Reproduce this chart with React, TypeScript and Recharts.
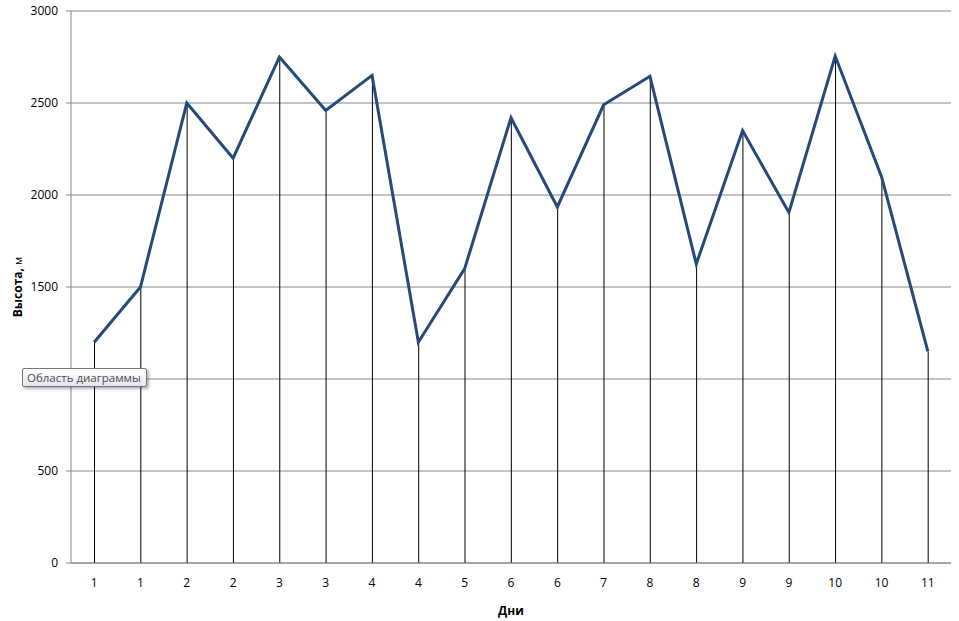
import React from 'react';
import { ComposedChart, Line, Bar, XAxis, YAxis, CartesianGrid, Label } from 'recharts';

// day labels under each measurement
const days = ['1', '1', '2', '2', '3', '3', '4', '4', '5', '6', '6', '7', '8', '8', '9', '9', '10', '10', '11'];
// height in metres
const heights = [1200, 1500, 2500, 2200, 2750, 2460, 2650, 1200, 1600, 2420, 1935, 2490, 2645, 1625, 2350, 1905, 2755, 2100, 1150];
const yTicks = [0, 500, 1000, 1500, 2000, 2500, 3000];

const data = days.map((d, i) => ({ day: d, height: heights[i] }));

const font = '"Open Sans", "Liberation Sans", sans-serif';
const axisGray = '#868686';

const YTitle = ({ viewBox }: any) => {
  const cx = 17;
  const cy = viewBox.y + viewBox.height / 2;
  return (
    <text
      x={cx}
      y={cy}
      transform={`rotate(-90, ${cx}, ${cy})`}
      textAnchor="middle"
      dominantBaseline="central"
      fontFamily={font}
      fontSize={12}
      fill="#000"
    >
      <tspan fontWeight="bold">Высота, </tspan>
      <tspan fontSize={11}>м</tspan>
    </text>
  );
};

const App = () => {
  return (
    <div style={{ position: 'absolute', left: 0, top: 0, width: 959, height: 621, background: '#fff', fontFamily: font }}>
      <ComposedChart
        width={959}
        height={621}
        data={data}
        margin={{ top: 11, right: 8, left: 0, bottom: 0 }}
        barCategoryGap={0}
      >
        <CartesianGrid vertical={false} stroke={axisGray} strokeWidth={1} />
        <XAxis
          dataKey="day"
          height={58}
          tickLine={false}
          tickMargin={9}
          axisLine={{ stroke: axisGray }}
          tick={{ fontSize: 12, fill: '#000', fontFamily: font }}
          interval={0}
        >
          <Label
            value="Дни"
            position="insideBottom"
            offset={6}
            style={{ fontSize: 12, fontWeight: 'bold', fill: '#000', fontFamily: font }}
          />
        </XAxis>
        <YAxis
          width={71}
          domain={[0, 3000]}
          ticks={yTicks}
          interval={0}
          tickSize={5}
          tickMargin={8}
          tickLine={{ stroke: axisGray }}
          axisLine={{ stroke: axisGray }}
          tick={{ fontSize: 12, fill: '#000', fontFamily: font }}
        >
          <Label content={<YTitle />} />
        </YAxis>
        <Bar dataKey="height" barSize={1} fill="#000" isAnimationActive={false} />
        <Line
          type="linear"
          dataKey="height"
          stroke="#244a7a"
          strokeWidth={3}
          dot={false}
          activeDot={false}
          isAnimationActive={false}
        />
      </ComposedChart>
      {/* hover hint captured in the screenshot */}
      <div
        style={{
          position: 'absolute',
          left: 22,
          top: 368,
          width: 125,
          height: 19,
          boxSizing: 'border-box',
          border: '1px solid #767676',
          borderRadius: 2,
          background: 'linear-gradient(#ffffff, #e4e5f0)',
          boxShadow: '2px 2px 3px rgba(0,0,0,0.3)',
          fontSize: 11.5,
          lineHeight: '17px',
          color: '#4c4c4c',
          paddingLeft: 4,
          whiteSpace: 'nowrap',
          overflow: 'hidden',
        }}
      >
        Область диаграммы
      </div>
    </div>
  );
};

export default App;
